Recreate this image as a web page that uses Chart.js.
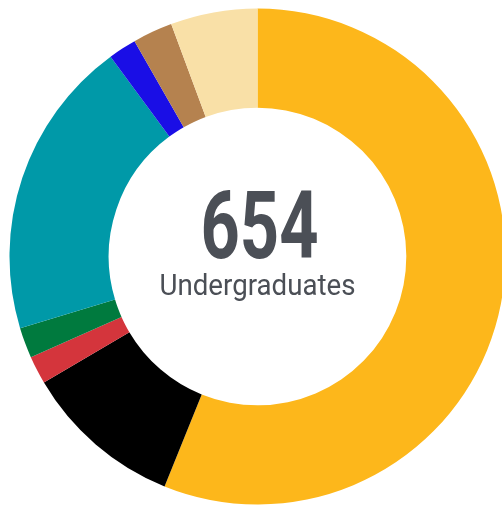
<!DOCTYPE html>
<html>
<head>
<meta charset="utf-8">
<script src="https://cdn.jsdelivr.net/npm/chart.js@4"></script>
<style>
  html, body { margin: 0; padding: 0; background: #fff; overflow: hidden; }
  #wrap { position: relative; width: 502px; height: 506px; overflow: hidden; }
  #donut { position: absolute; left: 0; top: 0; }
</style>
</head>
<body>
<div id="wrap"><canvas id="donut" width="515" height="513"></canvas></div>
<script>
const categorias = ["A", "B", "C", "D", "E", "F", "G", "H"];
const valores = [367, 68, 12, 13, 128, 12, 17, 37];
const cores = ["#FDB71B", "#000000", "#D4353C", "#007A3E", "#0099A8", "#1A0EE6", "#B5824F", "#F9E0A7"];
const totalTexto = "654";
const legendaTexto = "Undergraduates";

// texto central em fonte "condensada" (escala horizontal)
const textoCentro = {
  id: "textoCentro",
  afterDraw(chart) {
    const ctx = chart.ctx;
    const meta = chart.getDatasetMeta(0).data[0];
    const cx = meta.x;
    const cy = meta.y;

    function desenha(txt, fonte, larguraAlvo, dx, y) {
      ctx.save();
      ctx.font = fonte;
      const w = ctx.measureText(txt).width;
      const sx = larguraAlvo / w;
      ctx.translate(cx + dx, y);
      ctx.scale(sx, 1);
      ctx.fillStyle = "#4B4F56";
      ctx.textAlign = "center";
      ctx.textBaseline = "alphabetic";
      ctx.fillText(txt, 0, 0);
      ctx.restore();
    }

    desenha(totalTexto, "bold 95px Roboto", 118, 2, cy + 1.5);
    desenha(legendaTexto, "29.5px Roboto", 196, 0, cy + 38);
  },
};

const grafico = new Chart(document.getElementById("donut").getContext("2d"), {
  type: "doughnut",
  data: {
    labels: categorias,
    datasets: [
      {
        data: valores,
        backgroundColor: cores,
        borderWidth: 0,
        hoverOffset: 0,
      },
    ],
  },
  options: {
    responsive: false,
    animation: false,
    radius: 248,
    cutout: "60%",
    plugins: {
      legend: { display: false },
      tooltip: { enabled: false },
    },
  },
  plugins: [textoCentro],
});
</script>
</body>
</html>
